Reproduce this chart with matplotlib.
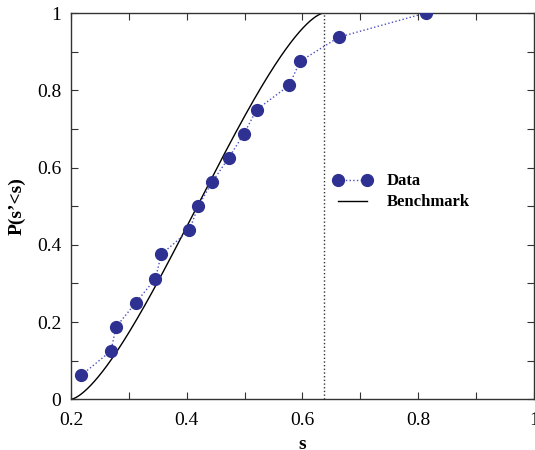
import numpy as np
import matplotlib.pyplot as plt
from matplotlib.font_manager import FontProperties

# Measured data points (empirical CDF)
data_s = [0.218, 0.269, 0.278, 0.312, 0.346, 0.356, 0.4045, 0.420,
          0.444, 0.4726, 0.499, 0.521, 0.577, 0.596, 0.663, 0.813]
data_p = [1/16, 2/16, 3/16, 4/16, 5/16, 6/16, 7/16, 8/16,
          9/16, 10/16, 11/16, 12/16, 13/16, 14/16, 15/16, 16/16]

# Benchmark: semicircle CDF between these edges
bench_lo = 0.2
bench_hi = 2 / np.pi

x_ticks = [0.2, 0.4, 0.6, 0.8, 1]
x_tick_labels = ['0.2', '0.4', '0.6', '0.8', '1']
y_ticks = [0, 0.2, 0.4, 0.6, 0.8, 1]
y_tick_labels = ['0', '0.2', '0.4', '0.6', '0.8', '1']

FONT = 'Liberation Serif'
plt.rcParams['font.family'] = FONT

tick_font = FontProperties(family=FONT, size=14)
label_font = FontProperties(family=FONT, size=14, weight='bold')
legend_font = FontProperties(family=FONT, size=12, weight='bold')


def benchmark_cdf(s):
    c = (bench_lo + bench_hi) / 2
    r = (bench_hi - bench_lo) / 2
    u = np.clip((s - c) / r, -1, 1)
    return 0.5 + (u * np.sqrt(1 - u ** 2) + np.arcsin(u)) / np.pi


def main():
    fig = plt.figure(figsize=(5.35, 4.5), dpi=100)
    ax = fig.add_axes([0.1327, 0.1127, 0.865, 0.8583])

    s_curve = np.linspace(bench_lo, bench_hi, 400)
    ax.plot(data_s, data_p, ':', color='#4a50c0', lw=1.0,
            marker='o', ms=8.5, mfc='#2e3192', mec='#2e3192',
            label='Data', zorder=3)
    ax.plot(s_curve, benchmark_cdf(s_curve), '-', color='black', lw=1.0,
            label='Benchmark', zorder=2)
    ax.plot([bench_hi, bench_hi], [0, 1], ':', color='#333333', lw=1.0)

    ax.set_xlim(0.2, 1)
    ax.set_ylim(0, 1)
    ax.set_xticks(x_ticks)
    ax.set_xticklabels(x_tick_labels)
    ax.set_yticks(y_ticks)
    ax.set_yticklabels(y_tick_labels)
    ax.set_xticks(np.arange(0.3, 1.0, 0.2), minor=True)
    ax.set_yticks(np.arange(0.1, 1.0, 0.2), minor=True)
    ax.tick_params(which='both', direction='in', top=True, right=True,
                   length=5, width=0.8, color='#333333')
    ax.tick_params(axis='x', pad=9)
    ax.tick_params(axis='y', pad=7)
    for lab in ax.get_xticklabels() + ax.get_yticklabels():
        lab.set_fontproperties(tick_font)
    for sp in ax.spines.values():
        sp.set_color('#333333')
        sp.set_linewidth(1.0)

    ax.set_xlabel('s', fontproperties=label_font, labelpad=5)
    ax.set_ylabel('P(s\u2019<s)', fontproperties=label_font, labelpad=8)

    ax.legend(loc='upper left', bbox_to_anchor=(0.566, 0.585), frameon=False,
              prop=legend_font, numpoints=2, borderpad=0, borderaxespad=0,
              handlelength=2.35, handletextpad=0.9, labelspacing=0.3)

    fig.savefig('out.png', dpi=100)


if __name__ == "__main__":
    main()
